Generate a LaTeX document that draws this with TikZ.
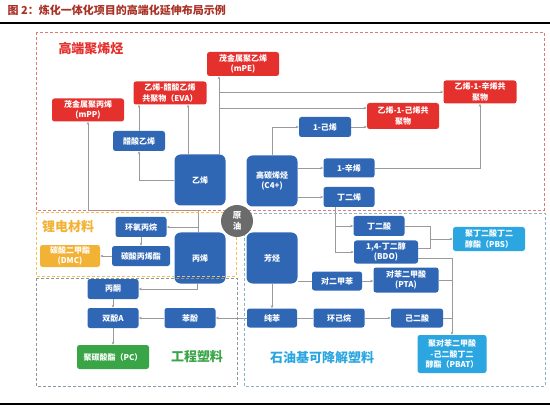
\documentclass[tikz,border=0pt]{standalone}
\usepackage{fontspec}
\setmainfont{Noto Sans CJK SC}
\usepackage{tikz}
\usetikzlibrary{arrows.meta}

\definecolor{nodeblue}{HTML}{2F67B5}
\definecolor{nodered}{HTML}{E5312E}
\definecolor{nodesky}{HTML}{2BA6E0}
\definecolor{nodegreen}{HTML}{3AA547}
\definecolor{nodeorange}{HTML}{F2B235}
\definecolor{crudegray}{HTML}{6B6B6B}
\definecolor{linkgray}{HTML}{9A9A9A}
\definecolor{titlered}{HTML}{A93226}
\definecolor{dashred}{HTML}{E07A76}
\definecolor{dashyellow}{HTML}{EFC35A}
\definecolor{dashgreen}{HTML}{8A98A4}
\definecolor{dashblue}{HTML}{8DB3CB}

\begin{document}
\begin{tikzpicture}[x=1pt,y=-1pt,every node/.style={font=\fontsize{8}{10.5}\selectfont\bfseries},line width=0.5pt]
\tikzset{box/.style={rectangle,rounded corners=2.5pt,text=white,inner sep=1pt,align=center,minimum width=51pt,minimum height=20pt},
  blue/.style={box,fill=nodeblue},
  big/.style={blue,minimum width=51pt,minimum height=51pt,rounded corners=6pt},
  red/.style={box,fill=nodered,minimum width=72pt,minimum height=24pt},
  sky/.style={box,fill=nodesky},
  area/.style={font=\fontsize{13}{15}\selectfont\bfseries},
  link/.style={draw=linkgray},
  arr/.style={link,-{Stealth[length=3pt,width=2.6pt]}},
  frame/.style={dashed,line width=0.7pt,dash pattern=on 3pt off 2pt}}
\useasboundingbox (0,0) rectangle (550,412);

% ---------- 标题 ----------
\node[anchor=west,text=titlered,font=\fontsize{11}{13}\selectfont\bfseries] (title) at (4,10) {图 2：炼化一体化项目的高端化延伸布局示例};
\draw[line width=1.2pt] (0,23)--(550,23);
\draw[line width=1.2pt] (0,404)--(550,404);

% ---------- 高端聚烯烃 ----------
\node[red] (mPE) at (243,64) {茂金属聚乙烯\\(mPE)};
\node[red,minimum width=73pt,minimum height=23pt] (EVA) at (170,93) {乙烯-醋酸乙烯\\共聚物（EVA）};
\node[red,minimum height=23pt] (mPP) at (88,110) {茂金属聚丙烯\\(mPP)};
\node[red,minimum height=26pt] (POE6) at (403,116) {乙烯-1-己烯共\\聚物};
\node[red,minimum width=73pt,minimum height=23pt] (POE8) at (480,92) {乙烯-1-辛烯共\\聚物};

\node[blue,minimum width=52pt] (VA) at (139,141) {醋酸乙烯};
\node[big] (ethylene) at (200,180) {乙烯};
\node[big] (C4) at (272,181) {高碳烯烃\\(C4+)};
\node[blue,minimum width=52pt] (hexene) at (325,127) {1-己烯};
\node[blue,minimum height=19pt] (octene) at (349,168) {1-辛烯};
\node[blue] (butadiene) at (349,197) {丁二烯};

\node[area,text=nodered] (lblPO) at (91,49) {高端聚烯烃};

% ---------- 锂电材料 / 工程塑料 ----------
\node[blue] (PO) at (141,227) {环氧丙烷};
\node[blue,minimum width=58pt] (PCE) at (141,256) {碳酸丙烯酯};
\node[box,fill=nodeorange,minimum width=60pt,minimum height=22pt] (DMC) at (70,256) {碳酸二甲酯\\(DMC)};
\node[big] (propylene) at (200,258) {丙烯};
\node[blue] (acetone) at (113,289) {丙酮};
\node[blue] (BPA) at (113,318) {双酚A};
\node[blue] (phenol) at (190,318) {苯酚};
\node[box,fill=nodegreen,minimum width=72pt,minimum height=24pt] (PCarb) at (113,357) {聚碳酸酯（PC）};

\node[area,text=nodeorange] (lblLi) at (68,227) {锂电材料};
\node[area,text=nodegreen] (lblEP) at (197,357) {工程塑料};

% ---------- 石油基可降解塑料 ----------
\node[big] (aromatics) at (272,258) {芳烃};
\node[blue] (SA) at (379,226) {丁二酸};
\node[blue,minimum width=64pt,minimum height=23pt] (BDO) at (386,252) {1,4-丁二醇\\(BDO)};
\node[sky,minimum width=72pt,minimum height=24pt] (PBS) at (489,239) {聚丁二酸丁二\\醇酯（PBS）};
\node[blue,minimum width=50pt,minimum height=19pt] (PX) at (337,281) {对二甲苯};
\node[blue,minimum width=65pt,minimum height=25pt] (PTA) at (406,280) {对苯二甲酸\\(PTA)};
\node[blue,minimum width=50pt,minimum height=19pt] (benzene) at (272,318) {纯苯};
\node[blue,minimum height=19pt] (cyclohexane) at (339,318) {环己烷};
\node[blue,minimum width=52pt,minimum height=19pt] (AA) at (417,318) {己二酸};
\node[sky,minimum width=69pt,minimum height=38pt] (PBAT) at (452,354) {聚对苯二甲酸\\-己二酸丁二\\醇酯（PBAT）};

\node[area,text=nodesky] (lblBio) at (322,358) {石油基可降解塑料};

% ---------- 连线 ----------
\coordinate (e8) at (219,92);
\coordinate (e6) at (219,108);
\coordinate (pJ) at (198,210);
\coordinate (pbsJ) at (430,239);

\draw[arr] (ethylene.west) -| (VA.south);
\draw[arr] (VA.north) -- (VA.north |- EVA.south);
\draw[arr] ([xshift=-12pt]ethylene.north) -- ([xshift=-12pt]ethylene.north |- EVA.south);
\draw[arr] ([xshift=19pt]ethylene.north) -- ([xshift=19pt]ethylene.north |- mPE.south);
\draw[arr] (e8) -- (e8 -| POE8.west);
\draw[arr] (e6) -- (e6 -| POE6.west);
\draw[arr] (C4.north) |- (hexene.west);
\draw[arr] (hexene.east) -- (hexene.east -| POE6.west);
\draw[arr] (C4.east |- octene) -- (octene.west);
\draw[arr] (C4.east |- butadiene) -- (butadiene.west);
\draw[arr] (octene.east) -| (POE8.south);
\draw[arr] ([xshift=-14pt]butadiene.south) |- (SA.west);
\draw[arr] ([xshift=-14pt]butadiene.south) |- (BDO.west);
\draw[link] (SA.east) -| (pbsJ);
\draw[link] ([yshift=4pt]BDO.east) -| (pbsJ);
\draw[arr] (pbsJ) -- (PBS.west);
\draw[arr] ([yshift=-6pt]BDO.east) -| (PBAT.north);
\draw[link] (PTA.east) -- (PTA.east -| PBAT.north);
\draw[link] (AA.east) -- (AA.east -| PBAT.north);
\draw[link] (aromatics.east |- PX) -- (PX.west);
\draw[arr] (PX.east) -- (PX.east -| PTA.west);
\draw[arr] (aromatics.south) -- (benzene.north);
\draw[link] (benzene.east) -- (cyclohexane.west);
\draw[arr] (cyclohexane.east) -- (AA.west);
\draw[arr] (benzene.west) -- (phenol.east);
\draw[arr] (phenol.west) -- (BPA.east);
\draw[arr] (acetone.south) -- (BPA.north);
\draw[arr] (BPA.south) -- (PCarb.north);
\draw[arr] ([xshift=-3pt]propylene.south) |- (acetone.east);
\draw[arr] ([xshift=-2pt]propylene.north) |- (PO.east);
\draw[arr] ([xshift=-2pt]propylene.north) -- (pJ) -| (mPP.south);
\draw[arr] (PO.south) -- (PCE.north);
\draw[arr] (PCE.west) -- (DMC.east);

% ---------- 虚线框 ----------
\draw[frame,draw=dashred] (36,32) rectangle (544,210);
\draw[frame,draw=dashyellow] (36,212) rectangle (236,276);
\draw[frame,draw=dashgreen] (36,278) rectangle (237,386);
\draw[frame,draw=dashblue] (244,213) rectangle (545,386);

\node[circle,fill=crudegray,text=white,minimum size=32pt,inner sep=0pt,align=center,font=\fontsize{8.5}{11}\selectfont\bfseries] (crude) at (237,221) {原\\油};

\end{tikzpicture}
\end{document}
